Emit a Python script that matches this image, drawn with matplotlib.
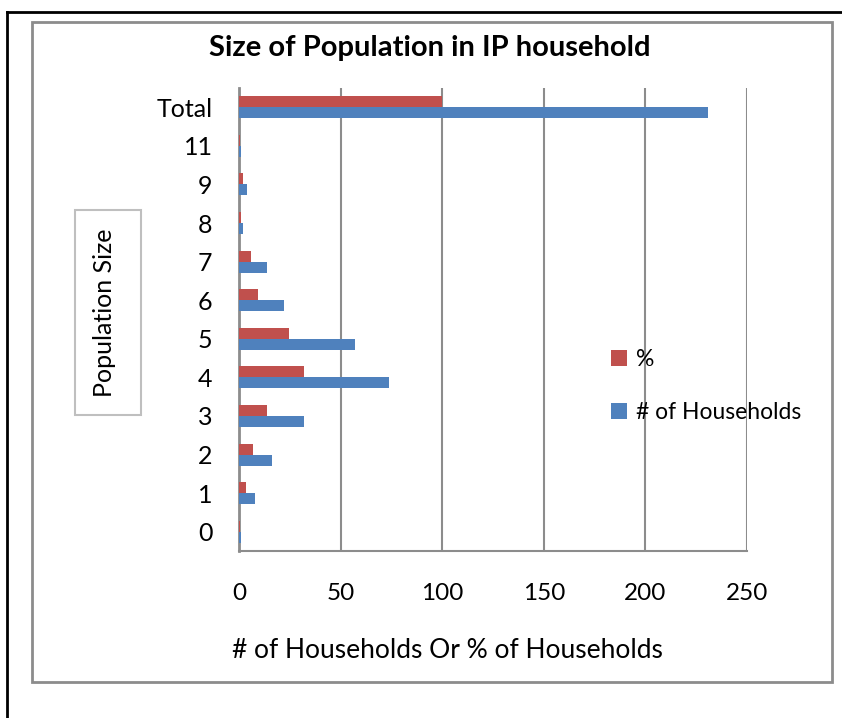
import numpy as np
import matplotlib.pyplot as plt
from matplotlib.patches import Rectangle
from matplotlib.lines import Line2D

plt.rcParams['font.family'] = ['Lato', 'DejaVu Sans']

sizes = ['0', '1', '2', '3', '4', '5', '6', '7', '8', '9', '11', 'Total']
households = [1, 8, 16, 32, 74, 57, 22, 14, 2, 4, 1, 231]
percent = [0.43, 3.46, 6.93, 13.85, 32.03, 24.68, 9.52, 6.06, 0.87, 1.73, 0.43, 100]

red = '#C0504D'
blue = '#4F81BD'
grid_grey = '#8C8C8C'

fig = plt.figure(figsize=(8.42, 7.18), dpi=100)

# outer frame (top and left only) and the grey chart border
fig.add_artist(Line2D([7/842, 7/842], [0, 1 - 12/718], color='black', lw=2))
fig.add_artist(Line2D([7/842, 1], [1 - 12/718, 1 - 12/718], color='black', lw=2))
fig.add_artist(Rectangle((32/842, 1 - 682/718), 800/842, 660/718, transform=fig.transFigure,
                         fill=False, edgecolor=grid_grey, lw=2))

ax = fig.add_axes([239/842, 1 - 551/718, 508/842, 463/718])

y = np.arange(len(sizes))
h = 0.285
ax.barh(y + h/2, percent, height=h, color=red, label='%', zorder=3)
ax.barh(y - h/2, households, height=h, color=blue, label='# of Households', zorder=3)

ax.set_xlim(0, 250)
ax.set_ylim(-0.5, len(sizes) - 0.5)
ax.set_xticks([0, 50, 100, 150, 200, 250])
ax.set_yticks(y)
ax.set_yticklabels(sizes)
ax.tick_params(axis='x', length=0, pad=23, labelsize=17.5)
ax.tick_params(axis='y', length=0, pad=19, labelsize=18)

ax.grid(axis='x', color=grid_grey, lw=1.5)
ax.set_axisbelow(True)
for s in ['top', 'right']:
    ax.spines[s].set_visible(False)
ax.spines['left'].set_color(grid_grey)
ax.spines['left'].set_linewidth(2)
ax.spines['bottom'].set_color(grid_grey)
ax.spines['bottom'].set_linewidth(1.5)

fig.text(430/842, 1 - 48/718, 'Size of Population in IP household', ha='center', va='center',
         fontsize=21, fontweight='bold')
fig.text(447/842, 1 - 651/718, '# of Households Or % of Households', ha='center', va='center',
         fontsize=19)

# y label in its own little box
fig.add_artist(Rectangle((75/842, 1 - 415/718), 66/842, 205/718, transform=fig.transFigure,
                         fill=False, edgecolor='#BFBFBF', lw=1.5))
fig.text(104/842, 1 - 313/718, 'Population Size', ha='center', va='center',
         rotation=90, fontsize=18)

handles, labels = ax.get_legend_handles_labels()
fig.legend(handles, labels, loc='center left', bbox_to_anchor=(590/842, 1 - 386/718),
           frameon=False, fontsize=16.5, handlelength=0.7, handleheight=0.7,
           handletextpad=0.4, labelspacing=1.4)

fig.savefig('out.png', dpi=100)
